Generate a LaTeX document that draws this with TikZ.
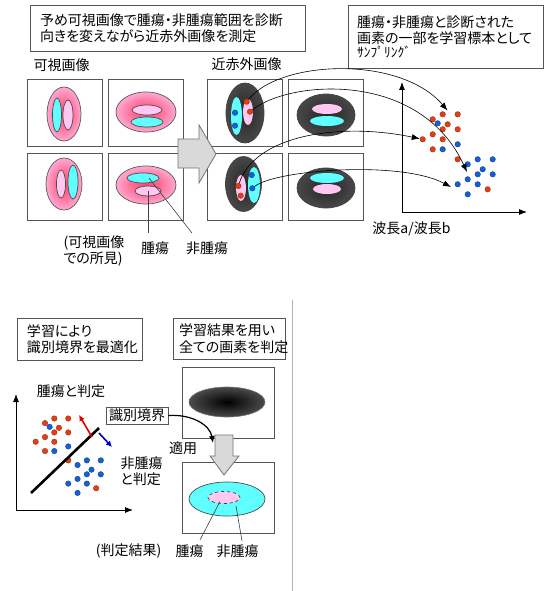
\documentclass[tikz,border=0pt]{standalone}
\usepackage{fontspec}
\usepackage{tikz}
\usetikzlibrary{arrows.meta,shapes.geometric}

\newfontfamily\jpfont[RawFeature=+palt]{Noto Sans CJK JP}
\newfontfamily\jpplain{Noto Sans CJK JP}

\definecolor{vispink}{RGB}{255,200,242}
\definecolor{visred}{RGB}{255,70,110}
\definecolor{tumcyan}{RGB}{95,255,255}
\definecolor{dotred}{RGB}{228,62,18}
\definecolor{dotblue}{RGB}{22,96,214}
\definecolor{boxline}{RGB}{85,85,85}

% shadings of the image ellipses
\pgfdeclareradialshading{visglow}{\pgfpoint{0bp}{0bp}}{%
  color(0bp)=(visred); color(12bp)=(visred!70!vispink); color(32bp)=(vispink); color(50bp)=(vispink)}
\pgfdeclareradialshading{nirglow}{\pgfpoint{0bp}{0bp}}{%
  color(0bp)=(black!85); color(25bp)=(black!72); color(50bp)=(black!42)}
\pgfdeclareradialshading{mapglow}{\pgfpoint{0bp}{0bp}}{%
  color(0bp)=(black); color(50bp)=(black!42)}

% sampled pixels, placed around the scope origin
\newcommand{\samplecloud}[1]{%
  \foreach \p [count=\i] in {(20,0),(35,0),(10,5),(25,10),(20,15),(35,15),(10,20),(20,25),(0,25),(10,35),(35,45),(65,75)}
    \node[reddot] (#1r\i) at \p {};
  \foreach \p [count=\i] in {(15,9),(35,30),(20,35),(45,50),(55,45),(70,45),(60,55),(55,60),(70,60),(45,65),(35,70),(55,70),(45,80)}
    \node[bluedot] (#1b\i) at \p {};
}

\tikzset{
  wh/.style 2 args={minimum width=#1pt, minimum height=#2pt},
  imgbox/.style={draw=boxline, line width=0.8pt, fill=white, wh={75}{67}, inner sep=0pt},
  visbody/.style={ellipse, draw=black!65, line width=0.7pt, shading=visglow, inner sep=0pt},
  nirbody/.style={ellipse, draw=black!75, line width=0.7pt, shading=nirglow, inner sep=0pt},
  tumor/.style={ellipse, fill=vispink, inner sep=0pt},
  normal/.style={ellipse, fill=tumcyan, inner sep=0pt},
  outlined/.style={draw=black!70, line width=0.7pt},
  reddot/.style={circle, fill=dotred, draw=dotred!70!black, line width=0.4pt, minimum size=5.5pt, inner sep=0pt},
  bluedot/.style={circle, fill=dotblue, draw=dotblue!70!black, line width=0.4pt, minimum size=5.5pt, inner sep=0pt},
  notebox/.style={draw=boxline, line width=0.8pt, align=left, inner sep=0pt},
  sample/.style={-{Latex[length=8pt,width=6pt]}, line width=0.6pt},
  axis/.style={-{Latex[length=8pt,width=6pt]}, line width=0.8pt},
  pointer/.style={line width=0.6pt, black!75},
  bigarrow/.style={fill=black!15, draw=black!55, line width=0.8pt},
}

\begin{document}
\begin{tikzpicture}[x=1pt, y=-1pt, font=\jpfont\fontsize{14}{16.5}\selectfont]
\useasboundingbox (0,0) rectangle (544,591);

% ---------- upper half ----------
\node[notebox, wh={275}{46}, text width=255pt] (plan) at (167.5,28)
  {予め可視画像で腫瘍・非腫瘍範囲を診断\\向きを変えながら近赤外画像を測定};
\node[notebox, wh={195}{63}, text width=177pt] (pick) at (445.5,36.5)
  {腫瘍・非腫瘍と診断された\\画素の一部を学習標本として\\[-3pt]{\jpplain\fontsize{13.5}{13}\selectfont ｻﾝﾌﾟﾘﾝｸﾞ}};

\node (vislbl) at (61.5,65) {可視画像};
\node (nirlbl) at (246.5,64) {近赤外画像};

% image frames
\foreach \n/\x/\y in {vis1/64.5/113, vis2/145.5/113, vis3/64.5/187, vis4/145.5/187,
                      nir1/245/113, nir2/326/113, nir3/245/187, nir4/326/187}
  \node[imgbox] (\n) at (\x,\y) {};

% visible images
\node[visbody, wh={34}{54}] (vis1body) at (64,114) {};
\node[normal, outlined, wh={9}{34}] (vis1n) at (57,115) {};
\node[tumor, outlined, wh={10}{30}] (vis1t) at (68,115) {};

\node[visbody, wh={60}{40}] (vis2body) at (146,112) {};
\node[tumor, outlined, wh={30}{10}] (vis2t) at (147,110) {};
\node[normal, outlined, wh={32}{10}] (vis2n) at (147,122) {};

\node[visbody, wh={36}{52}] (vis3body) at (64,184) {};
\node[tumor, outlined, wh={9}{28}] (vis3t) at (61,184) {};
\node[normal, outlined, wh={10}{34}] (vis3n) at (73,182) {};

\node[visbody, wh={60}{38}] (vis4body) at (146,185) {};
\node[normal, outlined, wh={32}{10}] (vis4n) at (143,178) {};
\node[tumor, outlined, wh={26}{10}] (vis4t) at (148,191) {};

% near infrared images
\node[nirbody, wh={38}{60}] (nir1body) at (245,113) {};
\node[normal, wh={11}{38}] (nir1n) at (236.5,116) {};
\node[tumor, wh={10}{26}] (nir1t) at (248,112) {};

\node[nirbody, wh={58}{42}] (nir2body) at (326,115) {};
\node[tumor, wh={30}{10}] (nir2t) at (327,109) {};
\node[normal, wh={34}{10}] (nir2n) at (327,121) {};

\node[nirbody, wh={36}{55}] (nir3body) at (243.5,184) {};
\node[tumor, wh={10}{26}] (nir3t) at (241,188) {};
\node[normal, wh={12}{36}] (nir3n) at (254,185) {};

\node[nirbody, wh={58}{40}] (nir4body) at (326,188) {};
\node[normal, wh={34}{10}] (nir4n) at (327,178) {};
\node[tumor, wh={28}{10}] (nir4t) at (327,189) {};

% picked pixels
\node[reddot] (nir1r1) at (246.7,101.7) {};
\node[reddot] (nir1r2) at (250,111.7) {};
\node[bluedot] (nir1b1) at (235,112.7) {};
\node[bluedot] (nir1b2) at (235,125.7) {};
\node[bluedot] (nir3b1) at (251.7,175) {};
\node[bluedot] (nir3b2) at (252.3,188.3) {};
\node[reddot] (nir3r1) at (238.3,186) {};
\node[reddot] (nir3r2) at (240.7,195.7) {};

% arrow between the image sets
\draw[bigarrow] (178,139) -- (199,139) -- (199,125) -- (216,154) -- (199,183) -- (199,168) -- (178,168) -- cycle;

% findings in the visible image
\node (tumlbl) at (155,248.5) {腫瘍};
\node (nonlbl) at (207,248.5) {非腫瘍};
\node[align=left, anchor=west] (vislook) at (60,251) {(可視画像\\での所見)};
\coordinate (tumend) at (148,233);
\coordinate (nonend) at (192,233);
\draw[pointer] (vis4t.center) -- (tumend);
\draw[pointer] ([xshift=6pt]vis4n.center) -- (nonend);

% feature space
\coordinate (uo) at (402,212);
\coordinate (uy) at (402,82);
\coordinate (ux) at (527,212);
\draw[axis] (uo) -- (uy);
\draw[axis] (uo) -- (ux);
\node (ratio) at (411.5,229) {波長a/波長b};
\begin{scope}[shift={(422.7,114.3)}]
  \samplecloud{u}
\end{scope}

\coordinate (hit1) at (447.5,110.5);
\coordinate (hit2) at (467,172);
\coordinate (hit4) at (451,187);
\draw[sample] (nir1r1) .. controls (280,60) and (400,55) .. (hit1);
\draw[sample] (nir1r2) .. controls (290,80) and (420,70) .. (hit2);
\draw[sample] (nir3r1) .. controls (255,135) and (340,122) .. (ur9);
\draw[sample] (nir3b2) .. controls (275,170) and (400,160) .. (hit4);

% ---------- lower half ----------
\draw[black!30, line width=0.8pt] (292,300) -- (292,591);

\node[notebox, wh={125}{42}, text width=105pt] (learn) at (79.5,339) {学習により\\識別境界を最適化};
\node[notebox, wh={112}{41}, text width=100pt] (judge) at (229,338.5) {学習結果を用い\\全ての画素を判定};

% trained boundary
\coordinate (lo) at (16,510);
\coordinate (ly) at (16,394);
\coordinate (lx) at (133,510);
\draw[axis] (lo) -- (ly);
\draw[axis] (lo) -- (lx);
\begin{scope}[shift={(35.7,418.5)}, scale=0.93]
  \samplecloud{l}
\end{scope}
\coordinate (bd0) at (31,493);
\coordinate (bd1) at (99,428);
\draw[line width=2.6pt] (bd0) -- (bd1);
\coordinate (rs) at (92,437);
\coordinate (re) at (79,415);
\coordinate (bs) at (99,433);
\coordinate (be) at (112,447);
\draw[red!90!black, line width=1.6pt, -{Latex[length=6pt,width=6pt]}] (rs) -- (re);
\draw[blue!80!black, line width=1.6pt, -{Latex[length=6pt,width=6pt]}] (bs) -- (be);

\node (tumside) at (71,391) {腫瘍と判定};
\node[align=left, anchor=west] (nonside) at (117,471) {非腫瘍\\と判定};
\node[notebox, align=center, wh={62}{17}] (bound) at (137,415.5) {識別境界};
\node (result) at (128.5,551) {(判定結果)};
\node (apply) at (183,448) {適用};

% whole image judged
\node[imgbox, wh={92}{71}] (mapbox) at (228,402.5) {};
\node[imgbox, wh={92}{71}] (resbox) at (228,497.5) {};
\node[ellipse, shading=mapglow, draw=black!55, line width=0.6pt, inner sep=0pt, wh={76}{30}] (map) at (227,402) {};
\node[normal, outlined, wh={76}{34}] (resn) at (227,499) {};
\node[tumor, draw=black!75, dashed, line width=0.7pt, wh={32}{12}] (rest) at (224,497.5) {};

\draw[bigarrow] (215,435) -- (233,435) -- (233,456) -- (239,456) -- (224,475) -- (210,456) -- (215,456) -- cycle;

\coordinate (applyend) at (213,443);
\draw[line width=1.2pt, -{Latex[length=7pt,width=6pt]}] (bound.east) .. controls (192,414) and (210,425) .. (applyend);

\node (restlbl) at (189.5,551) {腫瘍};
\node (resnlbl) at (237.5,551) {非腫瘍};
\coordinate (restend) at (200,540);
\coordinate (resnend) at (242,541);
\draw[pointer] ([shift={(-4pt,-4pt)}]rest.center) -- (restend);
\draw[pointer] ([shift={(9pt,-7pt)}]resn.center) -- (resnend);
\end{tikzpicture}
\end{document}
